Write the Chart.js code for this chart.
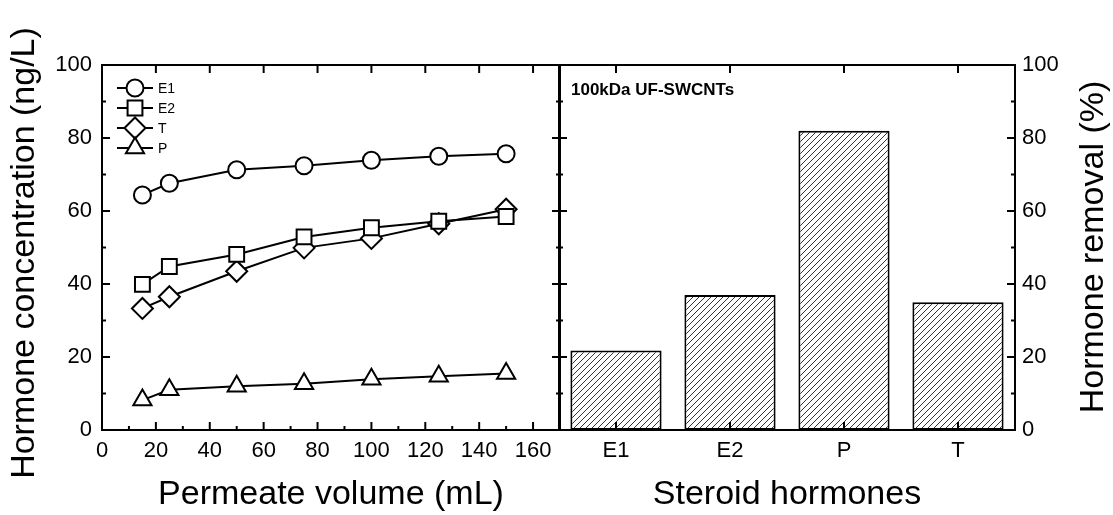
<!DOCTYPE html>
<html>
<head>
<meta charset="utf-8">
<script src="https://cdn.jsdelivr.net/npm/chart.js@4.4.1/dist/chart.umd.min.js"></script>
<style>
  body { margin: 0; background: #fff; }
  #wrap { position: relative; width: 1113px; height: 515px; }
  canvas { position: absolute; left: 0; top: 0; }
</style>
</head>
<body>
<div id="wrap">
  <canvas id="lineChart" width="1113" height="515"></canvas>
  <canvas id="barChart" width="1113" height="515"></canvas>
</div>
<script>
// data
var volumes = [15, 25, 50, 75, 100, 125, 150];
var e1Conc = [64.4, 67.6, 71.3, 72.4, 73.9, 75, 75.7];
var e2Conc = [39.9, 44.8, 48.1, 52.9, 55.4, 57.2, 58.5];
var tConc = [33.3, 36.5, 43.5, 49.9, 52.5, 56.5, 60.5];
var pConc = [8.2, 11, 12, 12.7, 13.9, 14.7, 15.5];
var hormones = ['E1', 'E2', 'P', 'T'];
var removal = [21.8, 37, 82, 35];
var volumeTicks = [0, 20, 40, 60, 80, 100, 120, 140, 160];
var concTicks = [0, 20, 40, 60, 80, 100];

Chart.defaults.font.family = '"Liberation Sans", Arial, sans-serif';
Chart.defaults.color = '#000';

function pts(vals) {
    return volumes.map(function (v, i) { return { x: v, y: vals[i] }; });
}

function series(label, vals, style, r) {
    return {
        label: label,
        data: pts(vals),
        borderColor: '#000',
        borderWidth: 2,
        pointStyle: style,
        pointRadius: r,
        pointHoverRadius: r,
        pointBackgroundColor: '#fff',
        pointBorderColor: '#000',
        pointBorderWidth: 2,
        tension: 0
    };
}

function tick(ctx, x1, y1, x2, y2) {
    ctx.beginPath();
    ctx.moveTo(x1, y1);
    ctx.lineTo(x2, y2);
    ctx.stroke();
}

function setTicks(list) {
    return function (s) {
        s.ticks = list.map(function (v) { return { value: v }; });
    };
}

// vertical axis title, reading bottom to top
function sideTitle(ctx, text, x, y) {
    ctx.save();
    ctx.fillStyle = '#000';
    ctx.translate(x, y);
    ctx.rotate(-Math.PI / 2);
    ctx.textAlign = 'center';
    ctx.textBaseline = 'middle';
    ctx.font = '34px "Liberation Sans", Arial, sans-serif';
    ctx.fillText(text, 0, 0);
    ctx.restore();
}

// frame, inward ticks and the legend of the left panel
var leftDeco = {
    id: 'leftDeco',
    afterDraw: function (chart) {
        var ctx = chart.ctx, a = chart.chartArea;
        var xs = chart.scales.x, ys = chart.scales.y;
        ctx.save();
        ctx.strokeStyle = '#000';
        ctx.lineWidth = 2;
        ctx.strokeRect(a.left, a.top, a.right - a.left, a.bottom - a.top);
        for (var v = 0; v <= 170; v += 10) {
            var px = xs.getPixelForValue(v);
            var len = v % 20 === 0 ? 8 : 4;
            tick(ctx, px, a.bottom, px, a.bottom - len);
            if (v % 20 === 0) tick(ctx, px, a.top, px, a.top + len);
        }
        for (var w = 0; w <= 100; w += 10) {
            var py = ys.getPixelForValue(w);
            var l2 = w % 20 === 0 ? 8 : 4;
            tick(ctx, a.left, py, a.left + l2, py);
            tick(ctx, a.right, py, a.right - l2, py);
        }
        // legend
        var y0 = 88;
        chart.data.datasets.forEach(function (ds, i) {
            var y = y0 + i * 20;
            ctx.lineWidth = 2;
            tick(ctx, 117, y, 153, y);
            ctx.fillStyle = '#fff';
            ctx.strokeStyle = '#000';
            Chart.helpers.drawPoint(ctx, {
                pointStyle: ds.pointStyle, radius: ds.pointRadius, borderWidth: 2, rotation: 0
            }, 135, y);
            ctx.fillStyle = '#000';
            ctx.font = '14px "Liberation Sans", Arial, sans-serif';
            ctx.textBaseline = 'middle';
            ctx.textAlign = 'left';
            ctx.fillText(ds.label, 158, y + 1);
        });
        ctx.restore();
        sideTitle(ctx, 'Hormone concentration (ng/L)', 25, 253);
    }
};

var lineChart = new Chart(document.getElementById('lineChart').getContext('2d'), {
    type: 'line',
    data: {
        datasets: [
            series('E1', e1Conc, 'circle', 8.5),
            series('E2', e2Conc, 'rect', 10.5),
            series('T', tConc, 'rectRot', 10.5),
            series('P', pConc, 'triangle', 10.5)
        ]
    },
    options: {
        responsive: false,
        devicePixelRatio: 1,
        animation: false,
        layout: { padding: { top: 65, right: 553, bottom: 0, left: 0 } },
        plugins: { legend: { display: false }, tooltip: { enabled: false } },
        scales: {
            x: {
                type: 'linear',
                min: 0,
                max: 170,
                grid: { display: false, drawTicks: false },
                border: { display: false },
                afterBuildTicks: setTicks(volumeTicks),
                ticks: { padding: 8, maxRotation: 0, font: { size: 22 } },
                title: {
                    display: true,
                    text: 'Permeate volume (mL)',
                    font: { size: 34 },
                    padding: 0
                },
                afterFit: function (s) { s.height = 85; }
            },
            y: {
                min: 0,
                max: 100,
                grid: { display: false, drawTicks: false },
                border: { display: false },
                afterBuildTicks: setTicks(concTicks),
                ticks: { padding: 10, font: { size: 22 } },
                afterFit: function (s) { s.width = 102; }
            }
        }
    },
    plugins: [leftDeco]
});

// right panel
function makeHatch(ctx) {
    var c = document.createElement('canvas');
    c.width = 6; c.height = 6;
    var p = c.getContext('2d');
    p.fillStyle = '#fff';
    p.fillRect(0, 0, 6, 6);
    p.strokeStyle = '#000';
    p.lineWidth = 0.8;
    p.beginPath();
    p.moveTo(0, 6); p.lineTo(6, 0);
    p.moveTo(-1, 1); p.lineTo(1, -1);
    p.moveTo(5, 7); p.lineTo(7, 5);
    p.stroke();
    return ctx.createPattern(c, 'repeat');
}

var rightDeco = {
    id: 'rightDeco',
    afterDraw: function (chart) {
        var ctx = chart.ctx, a = chart.chartArea;
        var xs = chart.scales.x, ys = chart.scales.y;
        ctx.save();
        ctx.strokeStyle = '#000';
        ctx.lineWidth = 2;
        ctx.strokeRect(a.left, a.top, a.right - a.left, a.bottom - a.top);
        for (var i = 0; i < hormones.length; i++) {
            var px = xs.getPixelForValue(i);
            tick(ctx, px, a.bottom, px, a.bottom - 8);
            tick(ctx, px, a.top, px, a.top + 8);
        }
        for (var w = 0; w <= 100; w += 10) {
            var py = ys.getPixelForValue(w);
            var len = w % 20 === 0 ? 8 : 4;
            tick(ctx, a.left, py, a.left + len, py);
            tick(ctx, a.right, py, a.right - len, py);
        }
        ctx.fillStyle = '#000';
        ctx.font = 'bold 17px "Liberation Sans", Arial, sans-serif';
        ctx.textBaseline = 'middle';
        ctx.textAlign = 'left';
        ctx.fillText('100kDa UF-SWCNTs', a.left + 12, 90);
        ctx.restore();
        sideTitle(ctx, 'Hormone removal (%)', 1094, 247);
    }
};

var barCtx = document.getElementById('barChart').getContext('2d');
var barChart = new Chart(barCtx, {
    type: 'bar',
    data: {
        labels: hormones,
        datasets: [{
            label: 'Hormone removal',
            data: removal,
            backgroundColor: makeHatch(barCtx),
            borderColor: '#000',
            borderWidth: 2,
            borderSkipped: false,
            barPercentage: 0.8,
            categoryPercentage: 1
        }]
    },
    options: {
        responsive: false,
        devicePixelRatio: 1,
        animation: false,
        layout: { padding: { top: 65, right: 0, bottom: 0, left: 559 } },
        plugins: { legend: { display: false }, tooltip: { enabled: false } },
        scales: {
            x: {
                grid: { display: false, drawTicks: false },
                border: { display: false },
                ticks: { padding: 8, font: { size: 22 } },
                title: {
                    display: true,
                    text: 'Steroid hormones',
                    font: { size: 34 },
                    padding: 0
                },
                afterFit: function (s) { s.height = 85; }
            },
            y: {
                position: 'right',
                min: 0,
                max: 100,
                grid: { display: false, drawTicks: false },
                border: { display: false },
                afterBuildTicks: setTicks(concTicks),
                ticks: { padding: 7, font: { size: 22 } },
                afterFit: function (s) { s.width = 98; }
            }
        }
    },
    plugins: [rightDeco]
});
</script>
</body>
</html>
